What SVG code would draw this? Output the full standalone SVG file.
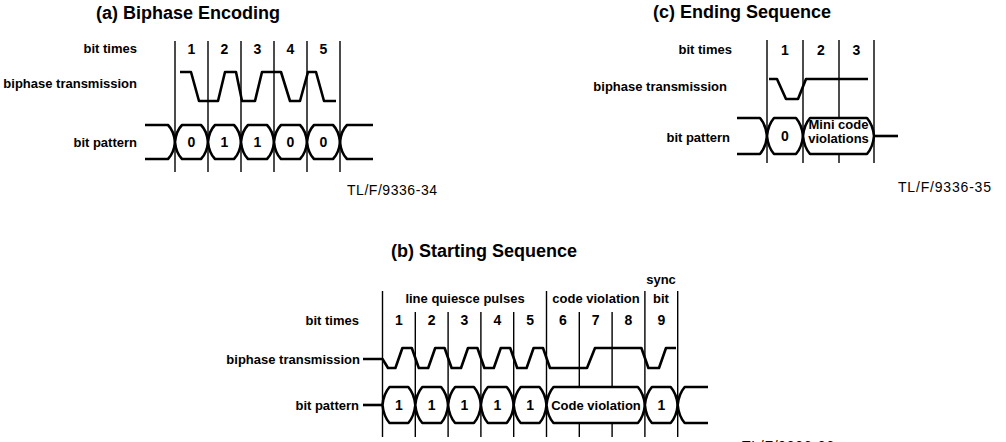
<svg xmlns="http://www.w3.org/2000/svg" width="1006" height="442" viewBox="0 0 1006 442">
<style>
text{font-family:"Liberation Sans",Arial,sans-serif;fill:#000}
.lbl{font-size:13px;font-weight:bold;text-anchor:end}
.num{font-size:14px;font-weight:bold;text-anchor:middle}
.ttl{font-size:18px;font-weight:bold;text-anchor:middle}
.ctr{font-size:13px;font-weight:bold;text-anchor:middle}
.tl{font-size:14px;font-weight:normal}
.grid{stroke:#000;stroke-width:1.4;fill:none}
.wave{stroke:#000;stroke-width:2.6;fill:none;stroke-linejoin:round}
.cell{fill:#fff;stroke:#000;stroke-width:2.6;stroke-linejoin:round}
</style>
<rect width="1006" height="442" fill="#fff"/>

<!-- (a) Biphase Encoding -->
<g id="panel-a">
<text class="ttl" x="188" y="19">(a) Biphase Encoding</text>
<text class="lbl" x="137" y="53">bit times</text>
<text class="lbl" x="137" y="88">biphase transmission</text>
<text class="lbl" x="137" y="147">bit pattern</text>
<g class="grid">
<path d="M175,41V172M208,41V172M241,41V172M274,41V172M307,41V172M340,41V172"/>
</g>
<g>
<text class="num" x="191.5" y="54">1</text>
<text class="num" x="224.5" y="54">2</text>
<text class="num" x="257.5" y="54">3</text>
<text class="num" x="290.5" y="54">4</text>
<text class="num" x="323.5" y="54">5</text>
</g>
<path class="wave" d="M180,72H191L199,101H218L225,72H236L242,101H255L262,72H281L290,101H300L308,72H316L324,101H336"/>
<path class="wave" d="M145,125H168Q174,131 175,142Q174,153 168,159H145"/>
<path class="cell" d="M175,142Q176,131 182,125H201Q207,131 208,142Q207,153 201,159H182Q176,153 175,142Z"/>
<path class="cell" d="M208,142Q209,131 215,125H234Q240,131 241,142Q240,153 234,159H215Q209,153 208,142Z"/>
<path class="cell" d="M241,142Q242,131 248,125H267Q273,131 274,142Q273,153 267,159H248Q242,153 241,142Z"/>
<path class="cell" d="M274,142Q275,131 281,125H300Q306,131 307,142Q306,153 300,159H281Q275,153 274,142Z"/>
<path class="cell" d="M307,142Q308,131 314,125H333Q339,131 340,142Q339,153 333,159H314Q308,153 307,142Z"/>
<path class="wave" d="M373,125H347Q341,131 340,142Q341,153 347,159H373"/>
<text class="num" x="191.5" y="147">0</text>
<text class="num" x="224.5" y="147">1</text>
<text class="num" x="257.5" y="147">1</text>
<text class="num" x="290.5" y="147">0</text>
<text class="num" x="323.5" y="147">0</text>
<text class="tl" x="347" y="195" textLength="90" lengthAdjust="spacing">TL/F/9336-34</text>
</g>

<!-- (c) Ending Sequence -->
<g id="panel-c">
<text class="ttl" x="742" y="18">(c) Ending Sequence</text>
<text class="lbl" x="732" y="54">bit times</text>
<text class="lbl" x="727" y="91">biphase transmission</text>
<text class="lbl" x="730" y="142">bit pattern</text>
<path class="grid" d="M767,40V163M803,40V163M839,40V163M874,40V163"/>
<text class="num" x="785" y="55">1</text>
<text class="num" x="821" y="55">2</text>
<text class="num" x="856.5" y="55">3</text>
<path class="wave" d="M769,79H777L786,99H798L806,79H868"/>
<path class="wave" d="M737,118H760Q766,125 767,136Q766,147 760,154H737"/>
<path class="cell" d="M767,136Q768,125 774,118H796Q802,125 803,136Q802,147 796,154H774Q768,147 767,136Z"/>
<path class="cell" d="M803,136Q804,125 810,118H867Q873,125 874,136Q873,147 867,154H810Q804,147 803,136Z"/>
<path class="wave" d="M874,136H898"/>
<text class="num" x="785" y="141">0</text>
<text class="ctr" x="838.5" y="129">Mini code</text>
<text class="ctr" x="838.5" y="143">violations</text>
<text class="tl" x="898" y="192" textLength="93" lengthAdjust="spacing">TL/F/9336-35</text>
</g>

<!-- (b) Starting Sequence -->
<g id="panel-b">
<text class="ttl" x="484" y="257">(b) Starting Sequence</text>
<text class="ctr" x="465" y="303">line quiesce pulses</text>
<text class="ctr" x="596" y="303">code violation</text>
<text class="ctr" x="661" y="284">sync</text>
<text class="ctr" x="661" y="303">bit</text>
<text class="lbl" x="359" y="325">bit times</text>
<text class="lbl" x="360" y="364">biphase transmission</text>
<text class="lbl" x="359" y="410">bit pattern</text>
<path class="grid" d="M382.5,291V437M546.5,291V437M644.9,291V437M677.7,291V437M415.3,312V437M448.1,312V437M480.9,312V437M513.7,312V437M579.3,312V437M612.1,312V437"/>
<g>
<text class="num" x="398.9" y="325">1</text>
<text class="num" x="431.7" y="325">2</text>
<text class="num" x="464.5" y="325">3</text>
<text class="num" x="497.3" y="325">4</text>
<text class="num" x="530.1" y="325">5</text>
<text class="num" x="562.9" y="325">6</text>
<text class="num" x="595.7" y="325">7</text>
<text class="num" x="628.5" y="325">8</text>
<text class="num" x="661.3" y="325">9</text>
</g>
<path class="wave" d="M363,359H382.5L388,368H395.4L402.4,348H411.8L418.8,368H428.2L435.2,348H444.6L451.6,368H461L468,348H477.4L484.4,368H493.8L500.8,348H510.2L517.2,368H526.6L533.6,348H543L550,368H587L595,348H641.4L648.4,368H659L666,348H676"/>
<path class="wave" d="M363,405H382.5"/>
<path class="cell" d="M382.5,405Q383.5,394 389.5,387H408.3Q414.3,394 415.3,405Q414.3,416 408.3,423H389.5Q383.5,416 382.5,405Z"/>
<path class="cell" d="M415.3,405Q416.3,394 422.3,387H441.1Q447.1,394 448.1,405Q447.1,416 441.1,423H422.3Q416.3,416 415.3,405Z"/>
<path class="cell" d="M448.1,405Q449.1,394 455.1,387H473.9Q479.9,394 480.9,405Q479.9,416 473.9,423H455.1Q449.1,416 448.1,405Z"/>
<path class="cell" d="M480.9,405Q481.9,394 487.9,387H506.7Q512.7,394 513.7,405Q512.7,416 506.7,423H487.9Q481.9,416 480.9,405Z"/>
<path class="cell" d="M513.7,405Q514.7,394 520.7,387H539.5Q545.5,394 546.5,405Q545.5,416 539.5,423H520.7Q514.7,416 513.7,405Z"/>
<path class="cell" d="M546.5,405Q547.5,394 553.5,387H637.9Q643.9,394 644.9,405Q643.9,416 637.9,423H553.5Q547.5,416 546.5,405Z"/>
<path class="cell" d="M644.9,405Q645.9,394 651.9,387H670.7Q676.7,394 677.7,405Q676.7,416 670.7,423H651.9Q645.9,416 644.9,405Z"/>
<path class="wave" d="M708,387H684.7Q678.7,394 677.7,405Q678.7,416 684.7,423H708"/>
<text class="num" x="398.9" y="410">1</text>
<text class="num" x="431.7" y="410">1</text>
<text class="num" x="464.5" y="410">1</text>
<text class="num" x="497.3" y="410">1</text>
<text class="num" x="530.1" y="410">1</text>
<text class="ctr" x="596" y="410">Code violation</text>
<text class="num" x="661.3" y="410">1</text>
<text class="tl" x="742" y="451" textLength="92" lengthAdjust="spacing">TL/F/9336-36</text>
</g>
</svg>
